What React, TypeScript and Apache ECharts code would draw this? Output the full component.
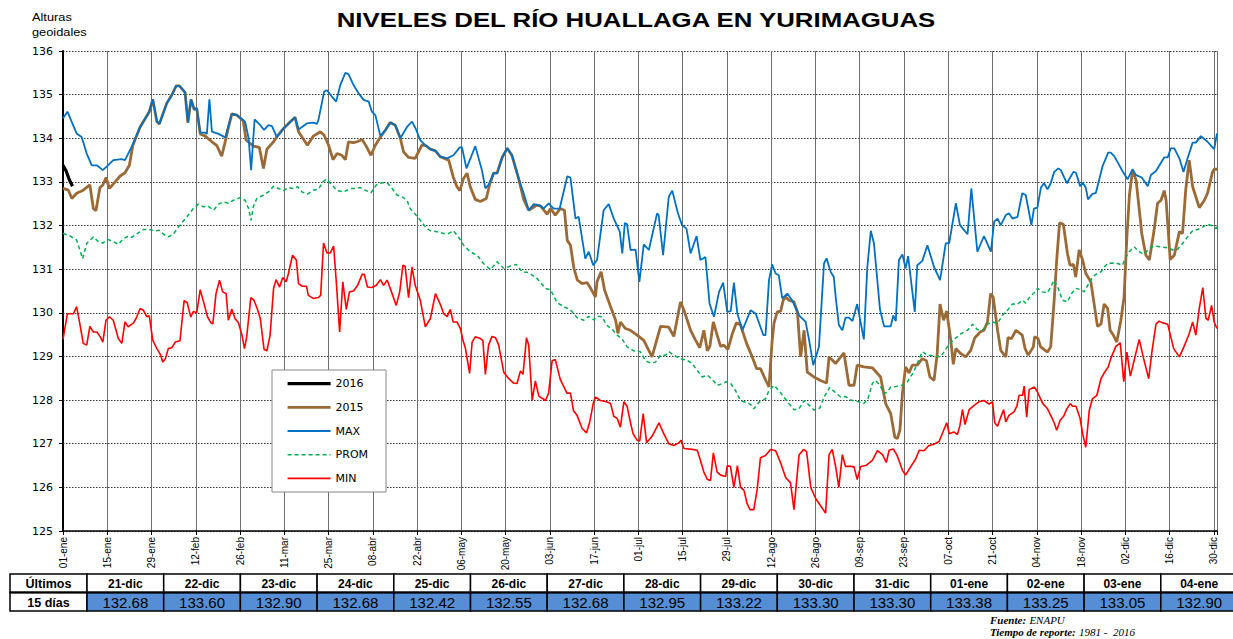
import React, { useEffect, useRef } from "react";
import * as echarts from "echarts";

// ---------- DATA ----------
const tickLabels = ["01-ene","15-ene","29-ene","12-feb","26-feb","11-mar","25-mar","08-abr","22-abr","06-may","20-may","03-jun","17-jun","01-jul","15-jul","29-jul","12-ago","26-ago","09-sep","23-sep","07-oct","21-oct","04-nov","18-nov","02-dic","16-dic","30-dic"];

const tableDates = ["21-dic","22-dic","23-dic","24-dic","25-dic","26-dic","27-dic","28-dic","29-dic","30-dic","31-dic","01-ene","02-ene","03-ene","04-ene"];
const tableValues = [132.68,133.60,132.90,132.68,132.42,132.55,132.68,132.95,133.22,133.30,133.30,133.38,133.25,133.05,132.90];

// [day of year, level]
const y2016 = [[0,133.38],[1,133.25],[2,133.05],[3,132.90]];

const y2015 = [[0,132.85],[1.7,132.81],[2.8,132.62],[4.3,132.74],[6.4,132.81],[8.5,132.93],[9.6,132.39],[10.4,132.34],[11.7,132.87],[12.6,132.93],[13.6,133.1],[14.7,132.85],[16.5,133.0],[18,133.13],[19.6,133.21],[21,133.38],[22.1,133.84],[24.4,134.26],[27.3,134.61],[28.4,134.89],[29.7,134.38],[30.5,134.33],[32.8,134.8],[34.4,134.99],[35.8,135.2],[36.8,135.2],[38.6,135.05],[39.5,134.36],[40.5,134.89],[41.5,134.66],[42.3,134.69],[43.4,134.1],[45,134.05],[47.1,133.92],[48.6,133.84],[50.2,133.59],[51.3,133.92],[52.5,134.3],[53.4,134.56],[55,134.53],[57,134.4],[57.9,133.96],[60.2,133.82],[62.1,133.79],[63.4,133.31],[64.5,133.75],[66.6,133.92],[67.6,134.03],[69.7,134.22],[71.9,134.38],[73.4,134.48],[74.5,134.15],[77.3,133.84],[79.2,134.05],[81.4,134.15],[82.6,134.07],[84,133.84],[85.4,133.51],[86.7,133.65],[88.2,133.61],[89.3,133.51],[90.3,133.92],[91.9,133.9],[93,133.92],[94.6,133.97],[95.9,133.82],[97.4,133.61],[98.8,133.84],[100.4,134.03],[102,134.19],[103.5,134.36],[105.1,134.3],[106.7,134.0],[107.7,133.69],[109.3,133.56],[111.4,133.54],[113.5,133.84],[114.6,133.84],[116.2,133.75],[117.8,133.71],[119.3,133.58],[122,133.5],[123.4,133.12],[124.6,132.89],[125.5,132.8],[126.7,133.08],[127.8,133.2],[128.8,132.89],[130.4,132.6],[132,132.55],[133.9,132.62],[134.9,132.93],[136.2,133.2],[137.3,133.2],[138.9,133.56],[140.5,133.77],[142,133.61],[144.1,133.08],[145.7,132.6],[147.3,132.35],[149.9,132.47],[151,132.45],[153.1,132.26],[154.2,132.39],[155.7,132.24],[157.3,132.39],[158.6,132.35],[159.5,131.66],[160.5,131.55],[161.6,131.02],[162.7,130.75],[164.2,130.67],[165.8,130.69],[166.6,130.6],[168.4,130.36],[168.9,130.71],[170.2,130.94],[171.3,130.52],[173.2,130.14],[174.8,129.83],[175.5,129.53],[176.3,129.79],[177.9,129.64],[179.5,129.6],[181.6,129.49],[183.7,129.37],[186.3,128.99],[189,129.69],[191.6,129.67],[193.2,129.46],[195.3,130.25],[196.4,130.06],[198.5,129.6],[200.1,129.37],[201.4,129.2],[202.7,129.6],[203.8,129.13],[204.6,129.23],[205.7,129.79],[206.9,129.49],[208,129.23],[209,129.26],[210.3,129.16],[211.7,129.52],[213,129.77],[214.3,129.72],[216.2,129.3],[218,128.99],[219.4,128.72],[220.6,128.72],[222.5,128.42],[223.3,128.3],[224.3,129.37],[224.9,129.77],[225.9,130.02],[227,130.04],[227.8,130.29],[228.6,130.36],[229.6,130.29],[231.2,130.25],[232.3,130.02],[233.3,128.99],[234.4,129.6],[235.4,128.64],[237.5,128.53],[239.6,128.45],[241.5,128.39],[242.3,128.99],[243.4,128.91],[244.4,128.84],[247,129.08],[248.6,128.34],[250.2,128.34],[251.2,128.8],[253.3,128.76],[256,128.74],[258.6,128.53],[260.2,127.92],[261.8,127.69],[263.1,127.15],[263.9,127.12],[264.7,127.31],[265.5,128.15],[266.5,128.76],[267.6,128.62],[268.6,128.8],[270.2,128.8],[271.8,128.95],[273.1,128.9],[274.2,128.53],[275.5,128.45],[276.5,129.06],[277.4,130.2],[278.5,129.83],[279.5,130.04],[280.8,129.37],[281.6,128.82],[282.4,129.18],[283.9,129.07],[285.5,128.99],[287.1,129.14],[288.4,129.43],[290.1,129.56],[291.3,129.6],[292.4,129.79],[293.4,130.44],[294.2,130.36],[295.6,129.6],[296.6,129.14],[298.2,128.99],[298.9,129.43],[300,129.41],[301.4,129.6],[303.4,129.49],[304.3,129.18],[305.3,129.03],[306.9,129.22],[307.3,129.45],[308.4,129.41],[309.2,129.22],[311.4,129.1],[312.4,129.22],[313.5,130.29],[314.3,131.21],[315.2,132.06],[316.4,132.03],[317.7,131.36],[318.5,131.09],[319.6,131.11],[320.3,130.82],[321.4,131.44],[322.5,131.21],[323.5,130.9],[325.1,130.71],[327.2,129.69],[328.3,129.74],[329.3,130.2],[330.4,130.1],[331.2,129.6],[332.2,129.49],[333.3,129.33],[334.6,129.83],[335.6,130.36],[336.5,131.74],[337.3,132.7],[338.3,133.27],[339.4,133.04],[340.5,132.31],[341.2,131.82],[342.5,131.32],[343.6,131.21],[345.1,131.89],[346.2,132.51],[347.3,132.58],[348.3,132.8],[348.9,132.58],[350.2,131.22],[351.5,131.32],[353.1,131.86],[354.1,131.82],[355.1,132.81],[356.2,133.5],[357.3,132.89],[359.4,132.41],[361,132.58],[362,132.74],[363.6,133.23],[364.1,133.29],[365,133.29]];

const maxLevels = [[0,134.46],[1.4,134.61],[4.3,134.11],[5.9,134.03],[7.5,133.65],[9.1,133.38],[10.7,133.38],[12.6,133.27],[13.8,133.35],[15.9,133.5],[18.6,133.52],[19.6,133.5],[21.7,133.8],[24.4,134.26],[27.3,134.61],[28.4,134.89],[29.7,134.38],[30.5,134.33],[32.8,134.8],[34.4,134.99],[35.8,135.2],[36.8,135.2],[38.6,135.05],[39.5,134.36],[40.5,134.89],[41.5,134.66],[42.3,134.69],[43.4,134.13],[44.9,134.13],[45.5,134.1],[46.3,134.89],[47.1,134.15],[49.2,134.1],[51.3,134.02],[53.4,134.56],[55,134.53],[57.6,134.38],[58.7,134.0],[59.5,133.27],[60.6,134.43],[62.4,134.3],[63.6,134.19],[65,134.3],[66.1,134.28],[67.6,134.03],[69.7,134.22],[71.9,134.38],[73.4,134.48],[74.5,134.2],[77.1,134.34],[79.2,134.36],[80.3,134.33],[80.8,134.42],[82.6,135.07],[83.5,135.1],[85.1,134.95],[86.4,134.84],[87.7,135.22],[89.3,135.5],[90.3,135.47],[91.9,135.22],[93.5,135.03],[95.1,134.88],[96.7,134.84],[97.7,134.61],[98.8,134.53],[100.4,134.05],[102,134.19],[103.5,134.36],[105.1,134.3],[106.7,134.0],[108.8,134.26],[110.4,134.38],[111.5,134.23],[113,133.96],[114.6,133.84],[116.2,133.75],[117.8,133.71],[119.3,133.58],[121.5,133.54],[123.5,133.61],[125.5,133.79],[126.2,133.79],[127.6,133.31],[129.1,133.58],[130.4,133.82],[132.5,133.27],[133.6,132.85],[134.6,132.93],[136.2,133.2],[137.3,133.2],[138.9,133.56],[140.5,133.77],[142,133.61],[144.1,133.08],[145.7,132.74],[147.3,132.35],[148.9,132.49],[151,132.45],[152,132.39],[153.6,132.51],[155.2,132.39],[157.1,132.39],[159.5,133.13],[160.5,133.1],[162.1,132.16],[163.1,132.2],[165.2,131.24],[166.3,131.4],[167.7,131.09],[168.9,131.21],[171,132.35],[172.6,132.49],[174.2,132.16],[176.1,131.86],[176.9,131.36],[177.7,132.06],[178.4,132.03],[179.5,131.44],[181.1,131.45],[182.3,130.71],[183.7,131.57],[185.3,131.44],[187.9,132.28],[188.4,132.24],[189.8,131.32],[191.6,132.66],[192.7,132.8],[194.5,132.28],[195.8,132.01],[197.2,131.93],[198.5,131.36],[200.4,131.76],[201.6,131.21],[203.2,131.28],[204.5,130.21],[205.9,129.91],[207.5,130.48],[208.8,130.69],[210.1,130.02],[211.2,130.04],[212.2,130.69],[213.3,129.98],[214.9,129.6],[217.5,130.06],[219.1,129.98],[221.5,129.49],[222.2,129.49],[223.3,130.75],[224.3,131.11],[225.4,130.9],[226.4,130.86],[227.5,130.33],[229.1,130.44],[230.6,130.29],[232.8,129.94],[234.9,129.79],[236,129.37],[237.3,128.8],[239.1,129.22],[240.7,131.13],[241.5,131.25],[242.8,130.94],[243.8,130.82],[244.4,130.36],[245.4,129.72],[246.5,129.6],[247.5,129.89],[248.6,129.89],[249.7,129.81],[251.2,130.2],[253.3,129.39],[254.4,131.05],[255.5,131.88],[256.5,131.59],[258.4,130.08],[259.7,129.69],[261.8,129.69],[262.6,129.94],[263.4,129.81],[264.4,131.21],[265.5,131.34],[266.5,131.02],[267.3,131.3],[269.4,130.02],[270.2,131.09],[271.8,131.19],[273.4,131.55],[275.5,131.05],[277.4,130.75],[279.2,131.59],[280.3,131.6],[282.4,132.51],[283.7,132.01],[286.1,131.8],[287.3,132.85],[289.2,131.4],[291.3,131.76],[293.5,131.4],[294.5,132.09],[295.6,132.16],[296.6,132.01],[298.2,132.24],[299.2,132.28],[300.3,132.16],[301.9,132.2],[303.4,132.74],[304.5,132.7],[306.3,132.01],[307.1,132.39],[308.2,132.41],[309.3,132.87],[310.3,132.97],[311.4,132.83],[312.4,132.97],[313.5,133.23],[314.8,133.31],[315.6,133.27],[317.5,132.97],[319.6,133.23],[320.4,133.21],[321.7,132.9],[322.5,132.98],[323.5,132.87],[324.2,132.6],[325.5,132.72],[326.7,132.75],[328.8,133.36],[330.6,133.67],[331.4,133.67],[332.5,133.59],[335.1,133.25],[336.7,133.06],[338.3,133.29],[339.3,133.16],[341.2,133.1],[343.1,132.9],[344.1,133.16],[345.7,133.25],[348.3,133.56],[349.4,133.56],[350.4,133.77],[351.5,133.77],[353.1,133.54],[354.4,133.23],[355.7,133.54],[357.3,133.9],[358.3,133.9],[359.9,134.05],[362,133.92],[364.1,133.75],[365,134.11]];

const promLevels = [[0,131.82],[2.2,131.76],[4.3,131.67],[6.2,131.24],[7.5,131.59],[9.6,131.74],[11.2,131.63],[12.6,131.6],[14.3,131.68],[15.9,131.63],[17.5,131.57],[19.1,131.7],[20.7,131.76],[21.7,131.73],[23.8,131.83],[25.4,131.91],[27.3,131.91],[29.1,131.88],[30.5,131.89],[31.8,131.8],[33.3,131.74],[34.9,131.8],[36.5,131.97],[39.2,132.2],[41.2,132.39],[42.8,132.49],[44.4,132.43],[46,132.44],[47.6,132.35],[49.2,132.49],[50.7,132.54],[52.3,132.51],[53.9,132.58],[56,132.64],[57.6,132.58],[58.7,132.39],[59.5,132.12],[60.2,132.43],[61.3,132.62],[63.4,132.7],[65,132.77],[66.6,132.9],[68.2,132.85],[69.7,132.8],[71.3,132.87],[72.9,132.85],[74.2,132.89],[75.6,132.77],[77.3,132.72],[79.2,132.81],[80.8,132.83],[82.2,133.0],[83.3,133.06],[85.1,132.93],[86.7,132.8],[88.7,132.77],[90.9,132.85],[92.5,132.85],[94,132.87],[95.6,132.81],[97.4,132.75],[99.1,132.93],[100.9,132.98],[102.5,132.98],[104.1,132.85],[105.6,132.7],[107.2,132.66],[108.8,132.58],[109.8,132.39],[111.4,132.26],[113,132.12],[114.6,131.97],[116.2,131.88],[118.3,131.86],[120.4,131.82],[122,131.82],[123.5,131.88],[125.1,131.74],[126.7,131.55],[128.8,131.4],[131,131.32],[133,131.13],[135.2,130.99],[137.3,131.17],[139.4,131.02],[141.5,131.07],[143.4,131.11],[145.2,130.94],[147.3,130.92],[149.9,130.79],[152.6,130.56],[154.2,130.53],[156.3,130.23],[158.4,130.14],[160.5,130.07],[162.6,129.89],[164.7,129.83],[166.3,129.92],[167.9,129.84],[169.1,129.92],[170.5,129.91],[171.9,129.72],[173.7,129.62],[175.3,129.49],[176.9,129.39],[178.4,129.22],[180.5,129.13],[182.6,129.11],[184.2,128.9],[185.8,128.85],[187.4,128.87],[189,129.03],[190.6,129.03],[191.6,129.11],[193.2,129.03],[195.3,128.95],[197.4,128.91],[199,128.84],[200.6,128.68],[202.2,128.53],[203.8,128.57],[205.4,128.47],[207,128.34],[208.6,128.38],[209.9,128.42],[211.2,128.38],[212.7,128.22],[214.3,127.99],[215.9,127.95],[217.5,127.9],[218.5,127.8],[220.1,127.95],[222.2,128.03],[223.3,128.22],[224.9,128.34],[226.4,128.22],[228,128.07],[229.6,127.92],[231.2,127.78],[232.8,127.8],[234.4,127.99],[236,127.88],[237.6,127.77],[239.4,127.82],[240.7,128.07],[242.5,128.29],[244.2,128.18],[246,128.07],[247.5,128.08],[249.1,128.0],[251.2,127.97],[253.3,127.92],[254.6,128.03],[256,128.38],[257,128.45],[258.4,128.34],[259.7,128.15],[260.7,128.18],[261.8,128.3],[263.4,128.31],[265.5,128.34],[267.1,128.42],[269,128.64],[270.2,128.84],[271.8,129.11],[273.4,129.03],[275.5,129.01],[277.6,128.99],[279.7,129.22],[281.8,129.39],[284,129.52],[286.1,129.6],[287.7,129.74],[289.2,129.62],[290.8,129.6],[292.4,129.74],[294,129.79],[295.6,129.76],[297.1,129.94],[298.7,130.06],[300.3,130.2],[301.9,130.2],[303.5,130.29],[304.5,130.22],[305.9,130.38],[307.2,130.46],[308.2,130.56],[309.8,130.48],[311.4,130.46],[312.4,130.59],[313.5,130.75],[314.8,130.56],[316.1,130.29],[317.7,130.25],[319,130.44],[320.4,130.56],[321.9,130.53],[323,130.48],[324.6,130.69],[325.6,130.82],[326.7,130.88],[328.3,130.94],[329.3,131.05],[330.4,131.13],[332,131.14],[333.6,131.13],[335.1,131.09],[336.2,131.28],[337.2,131.4],[338.8,131.51],[340.4,131.4],[341.8,131.34],[343.6,131.47],[345.1,131.53],[347.3,131.51],[349.4,131.49],[351,131.44],[352.5,131.45],[354.1,131.59],[355.7,131.74],[357.3,131.88],[358.9,131.91],[360.5,131.97],[362,132.03],[363.6,131.99],[364.7,131.93],[365,131.97]];

const minLevels = [[0,129.39],[1.4,129.98],[3.3,129.98],[4.3,130.14],[5.4,129.72],[6.4,129.3],[7.5,129.26],[8.5,129.69],[9.6,129.56],[10.7,129.56],[11.7,129.46],[12.6,129.33],[13.6,129.83],[14.7,129.91],[15.9,129.83],[17.5,129.41],[18.6,129.3],[19.6,129.79],[20.6,129.68],[22.3,129.77],[23.1,129.87],[24.4,130.1],[25.4,130.06],[26.5,129.91],[27.3,129.93],[28.4,129.37],[29.7,129.18],[30.7,129.06],[31.6,128.87],[32.4,128.95],[33.3,129.18],[34.4,129.2],[35.5,129.33],[37,129.36],[38.3,130.28],[39.3,130.23],[40.4,129.9],[41.2,130.03],[42.3,130.0],[43.4,130.53],[44.6,130.21],[45.7,129.91],[46.8,129.77],[47.4,129.75],[48.4,130.44],[49.5,130.75],[50.5,130.48],[51.6,130.44],[52.3,129.83],[53.4,130.08],[54.4,129.87],[55.5,129.77],[56.6,129.49],[57.4,129.18],[58.1,129.45],[59.4,130.35],[60.4,130.29],[61.5,130.08],[62.4,129.87],[63.6,129.16],[64.5,129.13],[65.5,129.49],[66.6,130.56],[67.4,130.76],[68.5,130.59],[69.5,130.81],[70.6,130.71],[71.3,130.9],[72.6,131.32],[73.8,131.21],[74.5,130.67],[75.6,130.61],[77,130.61],[77.6,130.4],[79.2,130.33],[80.8,130.35],[81.5,130.4],[82.4,131.6],[83.5,131.37],[84.5,131.37],[85.6,131.53],[86.4,130.75],[87.5,129.56],[88.5,130.71],[89.6,130.08],[90.6,130.48],[91.9,130.5],[93.2,130.63],[94.6,130.88],[95.3,130.88],[96.3,130.59],[97.7,130.58],[99.1,130.63],[100.4,130.76],[101.4,130.63],[102.5,130.75],[103.7,130.52],[105.4,130.17],[106.5,130.48],[107.5,131.09],[108.2,131.07],[109.3,130.35],[110.4,131.05],[111.4,130.63],[113,130.29],[114.6,129.68],[116.2,129.87],[117.8,130.44],[119.3,130.2],[120.4,129.98],[121.5,129.91],[122.5,130.08],[123.4,129.79],[124.6,129.79],[125.7,129.64],[126.5,129.37],[127.3,129.18],[128.6,128.61],[129.4,129.33],[130.4,129.45],[132,129.41],[132.8,129.37],[133.6,128.59],[134.6,129.26],[135.7,129.46],[136.8,129.43],[137.8,129.26],[139.4,128.64],[141,128.49],[142.5,128.39],[143.6,128.38],[144.7,128.67],[145.5,128.59],[146.6,129.43],[147.3,129.26],[148.4,127.99],[149.4,128.44],[150.5,128.09],[152.6,127.99],[153.6,128.16],[154.7,128.9],[155.7,128.93],[157.3,128.47],[159.4,128.16],[160.5,128.16],[161.5,127.75],[162.6,127.65],[164.2,127.35],[165.6,127.25],[166.6,127.5],[167.7,127.92],[168.4,128.07],[170,127.99],[171.9,127.96],[173.2,127.92],[174.2,127.63],[175.3,127.58],[176.3,127.38],[177.4,127.96],[178.4,127.86],[179.5,127.48],[180.3,127.23],[181.6,127.08],[182.4,127.06],[183.5,127.69],[184.6,127.02],[186.3,127.17],[188.5,127.48],[190,127.23],[191.6,127.0],[193.2,126.96],[194.8,127.02],[195.5,127.08],[196.4,126.89],[199,126.87],[200.6,126.85],[201.6,126.62],[202.7,126.35],[203.8,126.18],[204.8,126.16],[205.7,126.79],[206.9,126.35],[208,126.28],[209.6,126.25],[210.1,126.5],[211.1,126.48],[212.2,126.0],[213.3,126.5],[214.3,126.0],[215.4,125.93],[216.4,125.62],[217.3,125.49],[218.5,125.49],[219.6,125.97],[220.6,126.68],[222.2,126.73],[223.8,126.87],[225.4,126.84],[227,126.56],[228.6,126.22],[230.1,126.11],[231.2,125.49],[232.8,126.74],[234.2,126.87],[235.2,126.82],[236.5,126.0],[238.1,125.74],[239.6,125.58],[241.2,125.41],[242.3,126.75],[243.3,126.87],[244.4,126.47],[245.4,126.0],[246.5,126.75],[247.5,126.48],[249.1,126.48],[250.2,126.47],[251.2,126.18],[252.3,126.48],[253.9,126.5],[256,126.62],[257.6,126.84],[259.2,126.75],[260.4,126.57],[261.3,126.85],[262.6,126.88],[263.7,126.75],[264.4,126.62],[265.5,126.39],[266.5,126.28],[268.1,126.47],[269.7,126.65],[270.8,126.85],[272.3,126.84],[273.9,126.96],[275.5,126.99],[277.1,127.05],[278.1,127.23],[279.5,127.48],[280.3,127.23],[281.8,127.27],[282.9,127.21],[283.7,127.42],[284.5,127.78],[285.3,127.44],[286.6,127.78],[288.2,127.88],[289.7,127.96],[291.3,127.99],[292.9,127.91],[294,127.96],[294.7,127.48],[295.6,127.4],[296.6,127.61],[297.5,127.78],[298.2,127.5],[299.2,127.65],[300.8,127.73],[301.7,127.86],[302.4,128.11],[303.5,128.11],[304,128.32],[304.8,127.61],[305.6,128.24],[307.2,128.3],[308.2,128.19],[309.8,127.93],[311.4,127.8],[312.4,127.65],[313.5,127.48],[314.3,127.31],[315.4,127.54],[316.5,127.63],[317.5,127.8],[318.6,127.92],[319.3,127.86],[320.4,127.86],[321.7,127.58],[322.5,127.23],[323.5,126.92],[324.6,127.76],[325.6,128.03],[327,128.11],[328.3,128.49],[329.3,128.62],[330.6,128.76],[331.4,128.95],[333,129.23],[334.4,129.31],[335.5,128.42],[336.5,129.1],[337.6,128.55],[338.3,128.76],[340.4,129.39],[341.8,128.95],[343.4,128.49],[344.4,129.1],[345.7,129.74],[346.7,129.81],[347.8,129.77],[349.4,129.74],[351.3,129.18],[353.1,128.99],[354.6,129.23],[356.2,129.52],[357.3,129.79],[358.3,129.49],[359.4,130.1],[360.5,130.58],[361.5,129.87],[362.2,129.83],[363.3,130.17],[364.1,129.79],[365,129.64]];

// ---------- COMPONENT ----------
const SANS = "'Liberation Sans', Arial, sans-serif";
const WIDE = "'DejaVu Sans', sans-serif";
const SERIF = "'Liberation Serif', 'Times New Roman', serif";

function txt(x: number, y: number, text: string, font: string, extra: any = {}) {
  return {
    type: "text",
    x, y,
    z: 100,
    ...extra,
    style: {
      text,
      font,
      fill: "#000",
      align: extra.align || "center",
      textAlign: extra.align || "center",
      verticalAlign: "middle",
      textVerticalAlign: "middle",
    },
  };
}

function buildGraphic() {
  const g: any[] = [];
  // title
  g.push({ ...txt(636, 20, "NIVELES DEL RÍO HUALLAGA EN YURIMAGUAS", `bold 20px ${SANS}`), scaleX: 1.29 });
  g.push({ ...txt(32, 18, "Alturas", `10px ${SANS}`, { align: "left" }), scaleX: 1.28 });
  g.push({ ...txt(32, 33, "geoidales", `10px ${SANS}`, { align: "left" }), scaleX: 1.28 });

  // table
  const top = 574, rowH = 18.5, firstX = 10, firstW = 77, colW = 76.7;
  const stroke = { stroke: "#000", lineWidth: 1.5 };
  g.push({ type: "rect", z: 90, shape: { x: firstX, y: top, width: firstW, height: rowH }, style: { fill: "#fff", ...stroke } });
  g.push({ type: "rect", z: 90, shape: { x: firstX, y: top + rowH, width: firstW, height: rowH }, style: { fill: "#fff", ...stroke } });
  g.push(txt(firstX + firstW / 2, top + rowH / 2 + 1, "Últimos", `bold 12.5px ${SANS}`));
  g.push(txt(firstX + firstW / 2, top + rowH * 1.5 + 1, "15 días", `bold 12.5px ${SANS}`));
  tableDates.forEach((d, i) => {
    const x = firstX + firstW + i * colW;
    g.push({ type: "rect", z: 90, shape: { x, y: top, width: colW, height: rowH }, style: { fill: "#fff", ...stroke } });
    g.push({ type: "rect", z: 90, shape: { x, y: top + rowH, width: colW, height: rowH }, style: { fill: "#558ED5", ...stroke } });
    g.push(txt(x + colW / 2, top + rowH / 2 + 1, d, `bold 12px ${SANS}`));
    g.push(txt(x + colW / 2, top + rowH * 1.5 + 1, tableValues[i].toFixed(2), `15px ${SANS}`));
  });
  g.push({ type: "line", z: 95, shape: { x1: firstX, y1: top + rowH, x2: 1233, y2: top + rowH }, style: { stroke: "#000", lineWidth: 2 } });

  // footer
  const rich = {
    b: { font: `italic bold 11px ${SERIF}`, fill: "#000" },
    i: { font: `italic 11px ${SERIF}`, fill: "#000" },
  };
  g.push({
    type: "text", x: 990, y: 620, z: 100,
    style: { text: "{b|Fuente:} {i|ENAPU}", verticalAlign: "middle", textVerticalAlign: "middle", rich },
  });
  g.push({
    type: "text", x: 990, y: 632, z: 100,
    style: { text: "{b|Tiempo de reporte:} {i|1981 -  2016}", verticalAlign: "middle", textVerticalAlign: "middle", rich },
  });
  return g;
}

export default function App() {
  const ref = useRef<HTMLDivElement>(null);
  useEffect(() => {
    if (!ref.current) return;
    const chart = echarts.init(ref.current, null, { renderer: "svg" });
    const line = (name: string, data: number[][], color: string, width: number, z: number, type: any = "solid") => ({
      name, type: "line", data, symbol: "none", showSymbol: false, z,
      lineStyle: { color, width, type }, itemStyle: { color },
    });
    chart.setOption({
      animation: false,
      backgroundColor: "#fff",
      grid: { left: 63, right: 16, top: 51, bottom: 108 },
      xAxis: {
        type: "value", min: 0, max: 365, interval: 14,
        axisLine: { show: true, onZero: false, lineStyle: { color: "#000", width: 1.5 } },
        axisTick: { show: true, length: 4, lineStyle: { color: "#000" } },
        axisLabel: {
          rotate: 90, fontSize: 10, fontFamily: SANS, color: "#000", margin: 6,
          formatter: (v: number) => (v % 14 === 0 && v / 14 < tickLabels.length ? tickLabels[v / 14] : ""),
        },
        splitLine: { show: true, lineStyle: { color: "#6e6e6e", width: 1 } },
      },
      yAxis: {
        type: "value", min: 125, max: 136, interval: 1,
        axisLine: { show: true, lineStyle: { color: "#000", width: 2 } },
        axisTick: { show: true, length: 4, lineStyle: { color: "#000" } },
        axisLabel: { fontSize: 11, fontFamily: WIDE, color: "#000", margin: 10 },
        splitLine: { show: true, lineStyle: { color: "#333", width: 1, type: [1.5, 1.5] } },
      },
      legend: {
        orient: "vertical", left: 272, top: 370,
        padding: [8, 18, 8, 14], itemGap: 12.5, itemWidth: 43, itemHeight: 14,
        borderColor: "#888", borderWidth: 1, backgroundColor: "#fff",
        itemStyle: { opacity: 0, borderWidth: 0 },
        lineStyle: { width: "inherit" },
        textStyle: { fontSize: 11, fontFamily: WIDE, color: "#000" },
        data: ["2016", "2015", "MAX", "PROM", "MIN"],
      },
      series: [
        line("2015", y2015, "#9C6A36", 2.8, 2),
        line("MAX", maxLevels, "#0070C0", 1.8, 3),
        line("PROM", promLevels, "#00B050", 1.5, 3, [4, 3]),
        line("MIN", minLevels, "#FF0000", 1.6, 3),
        line("2016", y2016, "#000000", 3.2, 4),
      ],
      graphic: buildGraphic(),
    });
    return () => chart.dispose();
  }, []);
  return <div ref={ref} style={{ position: "absolute", left: 0, top: 0, width: 1233, height: 639 }} />;
}
